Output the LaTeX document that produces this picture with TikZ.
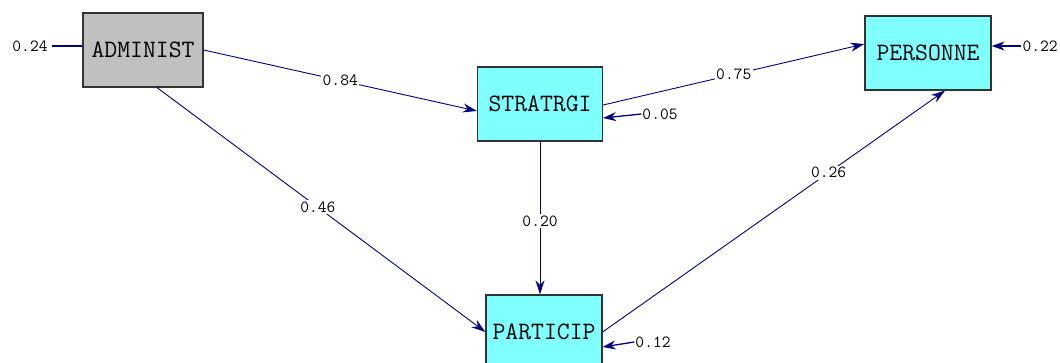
\documentclass[tikz,border=0pt]{standalone}
\usepackage{fontspec}
\usetikzlibrary{arrows.meta, positioning, calc}

\definecolor{pathblue}{RGB}{0,0,128}
\definecolor{endocyan}{RGB}{128,255,255}
\definecolor{exogray}{RGB}{192,192,192}

\begin{document}
\begin{tikzpicture}[
    x=1pt, y=-1pt,
    % latent variable boxes
    varbox/.style={rectangle, draw=black!80, line width=1.2pt, fill=endocyan,
        minimum width=120pt, minimum height=74pt, inner sep=0pt,
        font=\ttfamily\fontsize{25}{25}\selectfont},
    % exogenous box is grey
    exobox/.style={varbox, fill=exogray},
    % path coefficient labels
    coef/.style={fill=white, inner sep=1.5pt, font=\ttfamily\fontsize{17}{17}\selectfont},
    % error term labels
    errlbl/.style={inner sep=1pt, font=\ttfamily\fontsize{17}{17}\selectfont},
    % path arrows
    path/.style={draw=pathblue, line width=0.9pt, -{Stealth[length=14pt, width=9pt]}},
    errpath/.style={draw=pathblue, line width=1.3pt, -{Stealth[length=13pt, width=9pt]}}
]
    \clip (0,0) rectangle (1060,363);

    % variables
    \node[exobox] (admin) at (143,50) {ADMINIST};
    \node[varbox, minimum width=125pt] (strat) at (540,104) {STRATRGI};
    \node[varbox, minimum width=126pt] (pers) at (928,53) {PERSONNE};
    \node[varbox, minimum width=116pt] (partic) at (544,332) {PARTICIP};

    % error terms
    \node[errlbl] (e24) at (30,46) {0.24};
    \node[errlbl] (e05) at (660,114) {0.05};
    \node[errlbl] (e22) at (1040,46) {0.22};
    \node[errlbl] (e12) at (653,342) {0.12};

    \draw[draw=pathblue, line width=1.2pt] (e24.east) ++(3pt,0) -- (admin.west |- e24.east);
    \draw[errpath] (e05.west) -- ([yshift=-14pt]strat.east);
    \draw[errpath] (e22.west) -- ([yshift=7pt]pers.east);
    \draw[errpath] (e12.west) -- ([yshift=-15pt]partic.east);

    % structural paths
    \draw[path] (admin.east) -- node[coef, pos=0.5] {0.84} ([yshift=-7pt]strat.west);
    \draw[path] ([yshift=-1pt]strat.east) -- node[coef, pos=0.5] {0.75} ([yshift=9pt]pers.west);
    \draw[path] ([xshift=14pt]admin.south) -- node[coef, pos=0.49] {0.46} (partic.west);
    \draw[path] (strat.south) -- node[coef, pos=0.52] {0.20} (strat.south |- partic.north);
    \draw[path] (partic.east) -- node[coef, pos=0.66] {0.26} ([xshift=17pt]pers.south);
\end{tikzpicture}
\end{document}
